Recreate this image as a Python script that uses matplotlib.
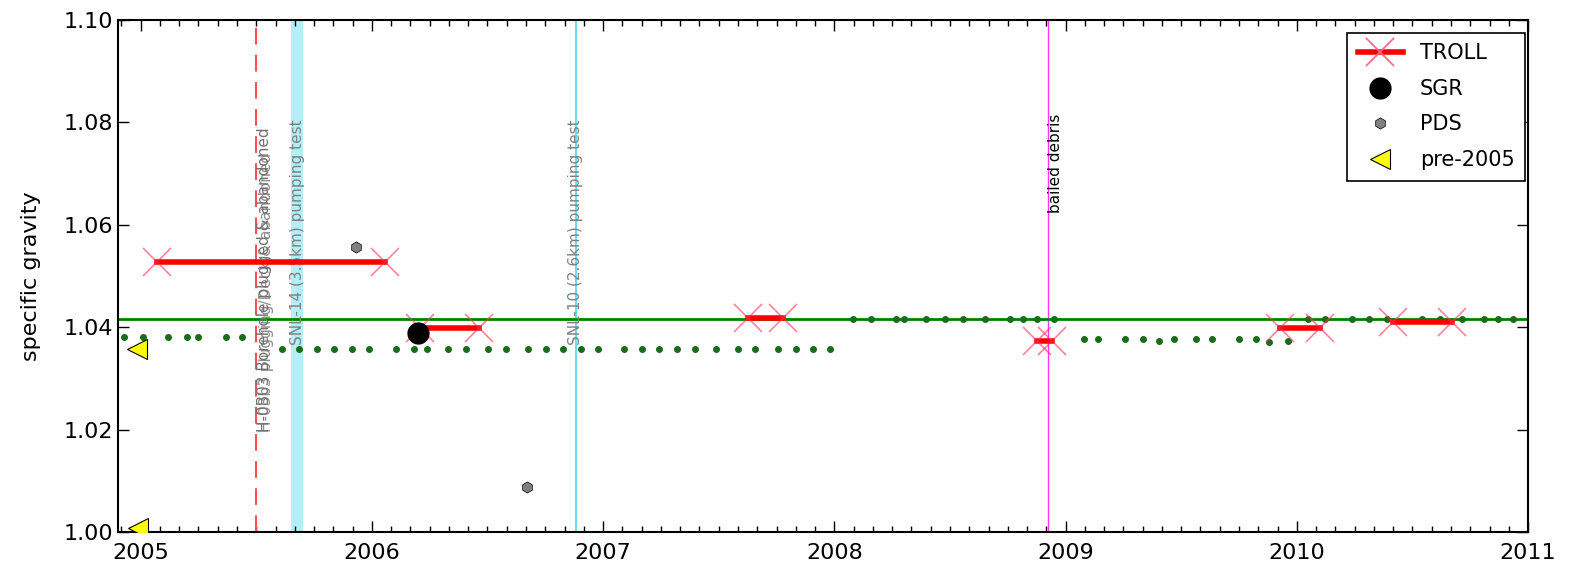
import numpy as np
import matplotlib
matplotlib.use('Agg')
import matplotlib.pyplot as plt
from matplotlib.ticker import MultipleLocator

# TROLL intervals (decimal year start, end, specific gravity)
troll_start = [2005.069, 2006.21, 2007.628, 2008.876, 2009.928, 2010.418]
troll_end = [2006.057, 2006.465, 2007.780, 2008.940, 2010.100, 2010.670]
troll_sg = [1.0527, 1.0398, 1.0417, 1.0374, 1.0398, 1.0410]

sgr_year = [2006.20]
sgr_sg = [1.0388]

pds_year = [2005.932, 2006.669]
pds_sg = [1.0556, 1.0088]

pre2005_year = [2004.983, 2004.99]
pre2005_sg = [1.0357, 1.0008]

# periodic readings (green dots)
dots1_year = [2004.93, 2005.01, 2005.12, 2005.20, 2005.246, 2005.37, 2005.44]
dots1_sg = [1.0380] * 7
dots2_year = [2005.61, 2005.685, 2005.764, 2005.837, 2005.913, 2005.988, 2006.105,
              2006.184, 2006.238, 2006.331, 2006.408, 2006.501, 2006.579, 2006.674,
              2006.753, 2006.828, 2006.905, 2006.98, 2007.091, 2007.167, 2007.242,
              2007.319, 2007.398, 2007.489, 2007.585, 2007.657, 2007.758, 2007.834,
              2007.906, 2007.981]
dots2_sg = [1.0358] * 30
dots3_year = [2008.08, 2008.158, 2008.267, 2008.302, 2008.397, 2008.479, 2008.556,
              2008.652, 2008.76, 2008.815, 2008.876, 2008.951]
dots3_sg = [1.0416] * 12
dots4_year = [2009.08, 2009.142, 2009.255, 2009.333, 2009.405, 2009.467, 2009.564,
              2009.633, 2009.748, 2009.823, 2009.878, 2009.962]
dots4_sg = [1.0376, 1.0376, 1.0376, 1.0376, 1.0374, 1.0376, 1.0376, 1.0376,
            1.0376, 1.0376, 1.0372, 1.0374]
dots5_year = [2010.05, 2010.123, 2010.238, 2010.314, 2010.392, 2010.54, 2010.62,
              2010.714, 2010.81, 2010.87, 2010.934]
dots5_sg = [1.0416] * 11

mean_sg = 1.0416

# events
plug_year = 2005.50
snl14_start, snl14_end = 2005.652, 2005.704
snl10_year = 2006.881
bail_year = 2008.923

fig = plt.figure(figsize=(15.75, 5.68), dpi=100)
ax = fig.add_axes([0.0749, 0.0634, 0.8953, 0.9014])

ax.axvline(plug_year, color='#ff5050', ls='--', lw=1.5, dashes=(8, 5))
ax.axvspan(snl14_start, snl14_end, color='#66e0f0', alpha=0.5, lw=0)
ax.axvline(snl10_year, color='#66e0f0', lw=1.5)
ax.axvline(bail_year, color='magenta', lw=1, alpha=0.8)

ax.axhline(mean_sg, color='green', lw=2)

for yrs, sgs in [(dots1_year, dots1_sg), (dots2_year, dots2_sg), (dots3_year, dots3_sg),
                 (dots4_year, dots4_sg), (dots5_year, dots5_sg)]:
    ax.plot(yrs, sgs, 'o', color='#1a6b1a', ms=4, mec='#1a6b1a')

for i in range(len(troll_start)):
    ax.plot([troll_start[i], troll_end[i]], [troll_sg[i], troll_sg[i]], '-', color='red', lw=4,
            zorder=4)
    ax.plot([troll_start[i], troll_end[i]], [troll_sg[i], troll_sg[i]], 'x', color='#ff3355',
            ms=20, mew=1.2, alpha=0.6, zorder=5)

ax.plot(sgr_year, sgr_sg, 'o', color='black', ms=15, zorder=6)
ax.plot(pds_year, pds_sg, 'h', color='gray', mec='black', mew=0.5, ms=8, zorder=6)
ax.plot(pre2005_year, pre2005_sg, '<', color='yellow', mec='black', mew=0.8, ms=15, zorder=6)

# legend proxies
h1, = ax.plot([], [], '-', color='red', lw=4, marker='x', ms=20, mec='#ff6680', mew=1.2)
h2, = ax.plot([], [], 'o', color='black', ms=15)
h3, = ax.plot([], [], 'h', color='gray', mec='black', mew=0.5, ms=8)
h4, = ax.plot([], [], '<', color='yellow', mec='black', mew=0.8, ms=15)
leg = ax.legend([h1, h2, h3, h4], ['TROLL', 'SGR', 'PDS', 'pre-2005'], loc='upper right',
                bbox_to_anchor=(0.998, 0.975), borderaxespad=0,
                numpoints=1, fontsize=15, fancybox=False, framealpha=1,
                handlelength=2.2, labelspacing=0.75, borderpad=0.5)
leg.get_frame().set_edgecolor('black')
leg.get_frame().set_linewidth(1.2)

ax.text(plug_year + 0.005, 1.0196, 'H-0B03 Borehole plugged & abandoned', rotation=90,
        ha='left', va='bottom', fontsize=11, color='#707070')
ax.text(plug_year + 0.012, 1.0196, 'H-03b3 plugging/Deck & abandoned', rotation=90,
        ha='left', va='bottom', fontsize=11, color='#707070', alpha=0.8)
ax.text((snl14_start + snl14_end) / 2, 1.0365, 'SNL-14 (3.5km) pumping test', rotation=90,
        ha='center', va='bottom', fontsize=11, color='#808080')
ax.text(snl10_year, 1.0365, 'SNL-10 (2.6km) pumping test', rotation=90,
        ha='center', va='bottom', fontsize=11, color='#808080')
ax.text(bail_year, 1.0623, 'bailed debris', rotation=90, ha='left', va='bottom',
        fontsize=11, color='black')

ax.set_xlim(2004.902, 2011.0)
ax.set_ylim(1.00, 1.10)
ax.set_xticks([2005, 2006, 2007, 2008, 2009, 2010, 2011])
ax.set_xticklabels(['2005', '2006', '2007', '2008', '2009', '2010', '2011'])
ax.xaxis.set_minor_locator(MultipleLocator(1 / 12))
ax.set_yticks(np.arange(1.00, 1.101, 0.02))
ax.set_yticklabels(['1.00', '1.02', '1.04', '1.06', '1.08', '1.10'])
ax.tick_params(which='both', direction='in', top=True, right=True, labelsize=16)
ax.tick_params(which='major', length=8, width=1)
ax.tick_params(which='minor', length=4, width=1)
ax.tick_params(axis='x', pad=8)
for s in ax.spines.values():
    s.set_linewidth(1.5)
ax.set_ylabel('specific gravity', fontsize=16, labelpad=16)

fig.savefig('out.png', dpi=100)
